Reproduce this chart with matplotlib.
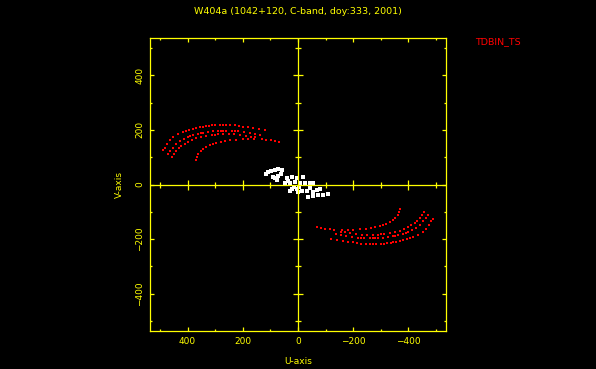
import matplotlib
matplotlib.use("Agg")
import matplotlib.pyplot as plt
import numpy as np

# red visibilities (u, v in kilo-lambda); conjugate points are plotted too
track_a_u = [490, 483, 475, 465, 451, 435, 417, 405, 393, 380, 370, 356, 345, 335, 323, 313, 300,
             284, 270, 259, 245, 229, 214, 199, 180, 162, 140, 120]
track_a_v = [127, 135, 149, 161, 173, 183, 191, 196, 201, 204, 206, 209, 211, 213, 215, 216, 217,
             218, 218, 218, 217, 216, 214, 212, 210, 207, 204, 201]
track_b_u = [470, 463, 453, 441, 429, 414, 399, 390, 381, 363, 352, 344, 326, 308, 290, 280, 270,
             259, 240, 228, 217, 195, 175, 155, 138]
track_b_v = [112, 122, 135, 148, 158, 167, 174, 178, 181, 186, 188, 190, 193, 195, 196, 197, 197,
             197, 196, 195, 194, 192, 189, 186, 182]
track_c_u = [458, 450, 441, 432, 423, 411, 399, 384, 368, 350, 332, 312, 300, 290, 270, 250, 230,
             210, 190, 170, 156]
track_c_v = [100, 112, 122, 132, 140, 149, 156, 163, 169, 174, 178, 181, 182, 183, 184, 184, 183,
             181, 178, 175, 173]
track_d_u = [371, 366, 362, 353, 344, 332, 320, 308, 296, 280, 265, 245, 223, 200, 181, 160, 132,
             115, 99, 84, 68]
track_d_v = [91, 102, 113, 122, 131, 137, 143, 147, 151, 155, 159, 162, 164, 166, 167, 167, 165,
             163, 161, 159, 156]

# white visibilities near the origin
short_u = [116, 108, 96, 84, 72, 59, 84, 72, 63, 77, 91, 41, 23, 5, -19, 47, 29, 11, -7, -25, -44,
           -56, 23, 5, -13, -31, -1, 29, 15, -5, 35, -56, -68, -80, -37, -56, -74, -92, -110, -45]
short_v = [40, 45, 50, 52, 55, 52, 22, 30, 37, 16, 28, 25, 28, 25, 28, 4, 6, 10, 4, 4, 4,
           4, -15, -18, -23, -23, -27, -23, -10, -8, 12, -27, -21, -15, -45, -43, -39, -39, -35, -12]

title = "W404a (1042+120, C-band, doy:333, 2001)"
label = "TDBIN_TS"
major_ticks = [-400, -200, 0, 200, 400]
minor_ticks = [-500, -300, -100, 100, 300, 500]
lim = 536

yellow = "#ffff00"

fig = plt.figure(figsize=(5.96, 3.69), dpi=100, facecolor="black")
ax = fig.add_axes([150 / 596, 38 / 369, 296 / 596, 293 / 369], facecolor="black")

u = np.concatenate([track_a_u, track_b_u, track_c_u, track_d_u]).astype(float)
v = np.concatenate([track_a_v, track_b_v, track_c_v, track_d_v]).astype(float)
ax.plot(np.concatenate([u, -u]), np.concatenate([v, -v]), ls="none", marker="s",
        ms=1.5, mew=0, color="#ff0000", antialiased=False)
ax.plot(short_u, short_v, ls="none", marker="s", ms=2.6, mew=0, color="white",
        antialiased=False)

# cross hairs with their own ticks
ax.axhline(0, color=yellow, lw=0.9)
ax.axvline(0, color=yellow, lw=0.9)
maj = [t for t in major_ticks if t != 0]
zeros_maj = [0] * len(maj)
zeros_min = [0] * len(minor_ticks)
ax.plot(maj, zeros_maj, ls="none", marker="|", ms=7, mew=0.9, color=yellow)
ax.plot(minor_ticks, zeros_min, ls="none", marker="|", ms=4, mew=0.9, color=yellow)
ax.plot(zeros_maj, maj, ls="none", marker="_", ms=7, mew=0.9, color=yellow)
ax.plot(zeros_min, minor_ticks, ls="none", marker="_", ms=4, mew=0.9, color=yellow)

ax.set_xlim(lim, -lim)
ax.set_ylim(-lim, lim)
ax.set_xticks(major_ticks)
ax.set_yticks(major_ticks)
ax.set_xticks(minor_ticks, minor=True)
ax.set_yticks(minor_ticks, minor=True)
ax.tick_params(which="both", direction="in", top=True, right=True, color=yellow,
               labelcolor=yellow, labelsize=6.5, width=0.9)
ax.tick_params(which="major", length=3.2, pad=4)
ax.tick_params(which="minor", length=1.7)
for t in ax.get_yticklabels():
    t.set_rotation(90)
    t.set_va("center")
for s in ax.spines.values():
    s.set_color(yellow)
    s.set_linewidth(0.9)

ax.set_xlabel("U-axis", color=yellow, fontsize=6.5, labelpad=8)
ax.set_ylabel("V-axis", color=yellow, fontsize=6.5, labelpad=8)
ax.set_title(title, color=yellow, fontsize=6.8, pad=17)
fig.text(475 / 596, 1 - 42 / 369, label, color="#ff0000", fontsize=6.8, va="center")

fig.savefig("out.png", dpi=100, facecolor="black")
